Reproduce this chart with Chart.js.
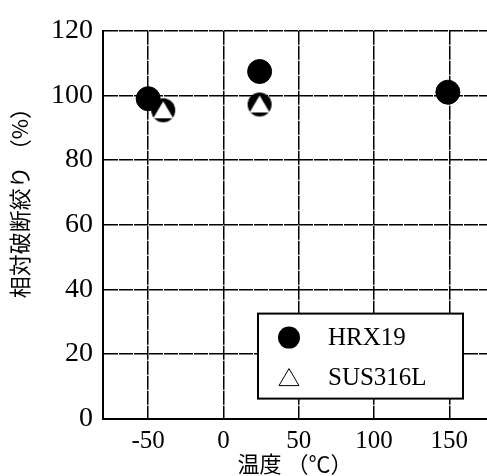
<!DOCTYPE html>
<html>
<head>
<meta charset="utf-8">
<script src="https://cdn.jsdelivr.net/npm/chart.js@4"></script>
<style>
html, body { margin: 0; padding: 0; background: #fff; overflow: hidden; }
#myChart { display: block; margin-top: 4px; }
</style>
</head>
<body>
<canvas id="myChart" width="500" height="472"></canvas>
<script>
// data
const xTicks = [-50, 0, 50, 100, 150];
const yTicks = [0, 20, 40, 60, 80, 100, 120];
const hrxTemp = [-50, 24, 149];
const hrxValue = [99, 107.4, 101];
const susTemp = [-40, 24];
const susValue = [95.4, 97.2];
const yTitle = '相対破断絞り （%）';

const serif = "'Liberation Serif', 'DejaVu Serif', serif";
const gothic = "'Noto Sans CJK JP', 'Noto Sans', sans-serif";

// triangle drawn over a black dot, as in the figure
function susMarker() {
    const c = document.createElement('canvas');
    c.width = 26;
    c.height = 26;
    const ctx = c.getContext('2d');
    ctx.fillStyle = '#000';
    ctx.beginPath();
    ctx.arc(13, 13, 12, 0, Math.PI * 2);
    ctx.fill();
    ctx.fillStyle = '#fff';
    ctx.beginPath();
    ctx.moveTo(13, 4);
    ctx.lineTo(23, 21);
    ctx.lineTo(3, 21);
    ctx.closePath();
    ctx.fill();
    return c;
}

// boxed legend inside the plot + the y title (sits above centre in the figure)
const boxLegend = {
    id: 'boxLegend',
    afterDraw(chart) {
        const ctx = chart.ctx;
        const a = chart.chartArea;
        const x0 = a.left + 155, y0 = a.bottom - 105, w = 205, h = 85;
        ctx.save();
        ctx.fillStyle = '#fff';
        ctx.fillRect(x0, y0, w, h);
        ctx.lineWidth = 2;
        ctx.strokeStyle = '#000';
        ctx.strokeRect(x0, y0, w, h);

        ctx.fillStyle = '#000';
        ctx.beginPath();
        ctx.arc(x0 + 31, y0 + 24, 11, 0, Math.PI * 2);
        ctx.fill();

        ctx.lineWidth = 1;
        ctx.beginPath();
        ctx.moveTo(x0 + 31, y0 + 55);
        ctx.lineTo(x0 + 41, y0 + 72);
        ctx.lineTo(x0 + 21, y0 + 72);
        ctx.closePath();
        ctx.stroke();

        ctx.font = '25px ' + serif;
        ctx.textBaseline = 'middle';
        ctx.fillText(chart.data.datasets[0].label, x0 + 70, y0 + 25);
        ctx.fillText(chart.data.datasets[1].label, x0 + 70, y0 + 65);

        ctx.translate(20, (a.top + a.bottom) / 2 - 27);
        ctx.rotate(-Math.PI / 2);
        ctx.textAlign = 'center';
        ctx.font = '22px ' + gothic;
        ctx.fillText(yTitle, 0, 0);
        ctx.restore();
    }
};

const data = {
    datasets: [{
        label: 'HRX19',
        data: hrxTemp.map((t, i) => ({ x: t, y: hrxValue[i] })),
        pointStyle: 'circle',
        pointRadius: 12,
        backgroundColor: '#000',
        borderColor: '#000',
        showLine: false
    }, {
        label: 'SUS316L',
        data: susTemp.map((t, i) => ({ x: t, y: susValue[i] })),
        pointStyle: susMarker(),
        pointRadius: 12,
        backgroundColor: '#fff',
        borderColor: '#000',
        showLine: false
    }]
};

const gridStyle = {
    color: '#000',
    lineWidth: 1.5,
    drawTicks: false
};

const config = {
    type: 'scatter',
    data: data,
    plugins: [boxLegend],
    options: {
        responsive: false,
        animation: false,
        layout: { padding: { top: 21, right: 11, left: 41, bottom: 2 } },
        plugins: {
            legend: { display: false },
            tooltip: { enabled: false }
        },
        scales: {
            x: {
                type: 'linear',
                min: -80,
                max: 175,
                afterBuildTicks: (scale) => { scale.ticks = xTicks.map(v => ({ value: v })); },
                grid: gridStyle,
                border: { display: true, color: '#000', width: 2, dash: [14, 1] },
                ticks: { color: '#000', padding: 8, font: { family: serif, size: 25 } },
                title: {
                    display: true,
                    text: '温度 （℃）',
                    color: '#000',
                    padding: { top: -14, bottom: -3 },
                    font: { family: gothic, size: 22 }
                }
            },
            y: {
                min: 0,
                max: 120,
                afterBuildTicks: (scale) => { scale.ticks = yTicks.map(v => ({ value: v })); },
                grid: gridStyle,
                border: { display: true, color: '#000', width: 2, dash: [14, 1] },
                ticks: { color: '#000', padding: 10, font: { family: serif, size: 28 } }
            }
        }
    }
};

const myChart = new Chart(document.getElementById('myChart'), config);
</script>
</body>
</html>
